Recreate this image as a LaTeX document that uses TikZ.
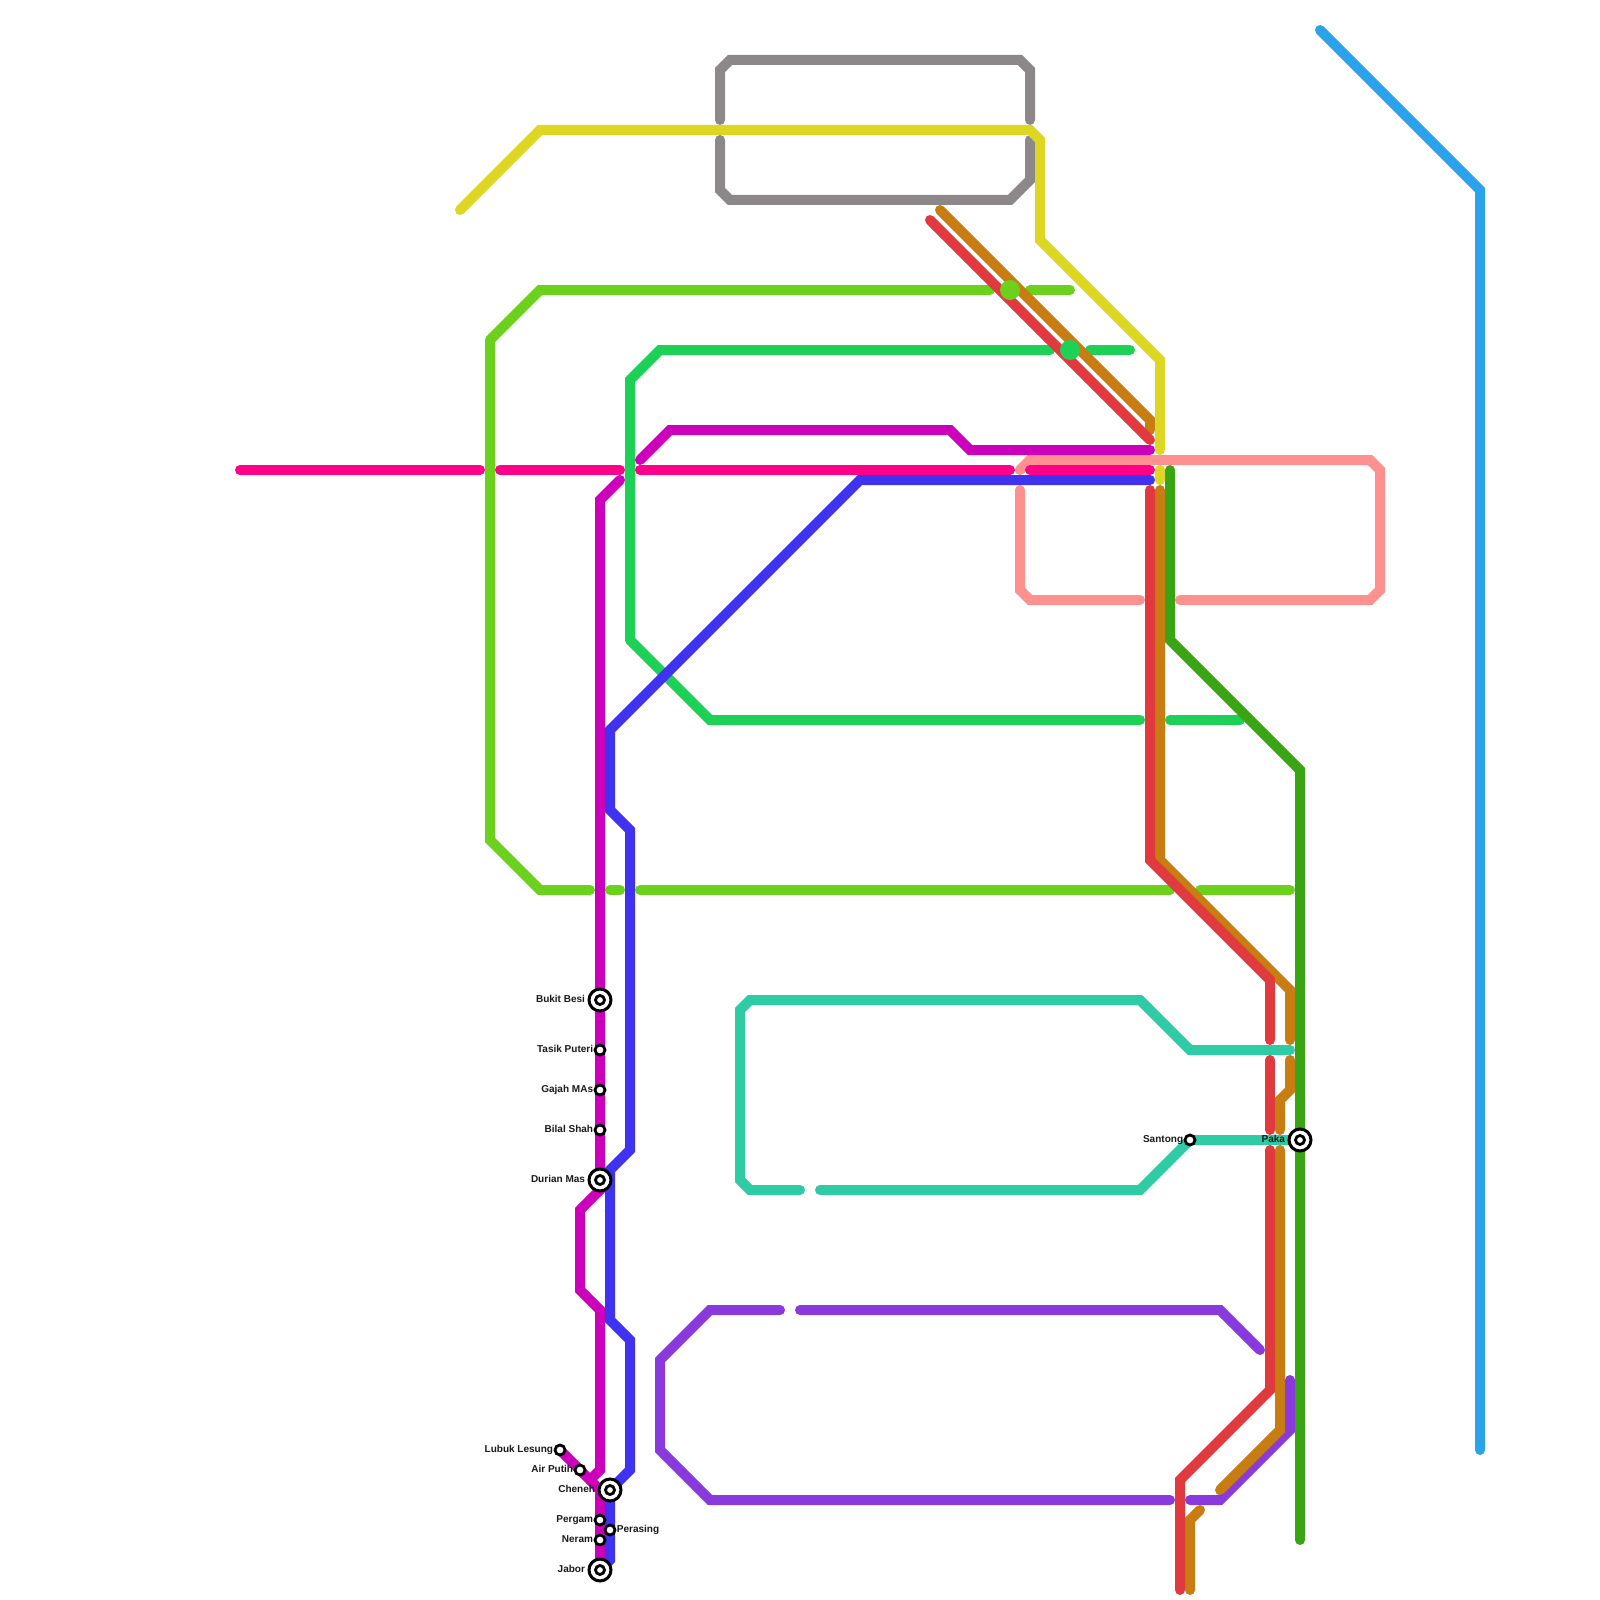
\documentclass[tikz,border=0pt]{standalone}
\usepackage{fontspec}
\setmainfont{Liberation Sans}
\usetikzlibrary{positioning,backgrounds}
\definecolor{Sky}{HTML}{2AA3EC}
\definecolor{Slate}{HTML}{8C888A}
\definecolor{Mustard}{HTML}{DDD622}
\definecolor{Lime}{HTML}{6BD11C}
\definecolor{Jade}{HTML}{1CD155}
\definecolor{Orchid}{HTML}{CC00BB}
\definecolor{Rose}{HTML}{FF0088}
\definecolor{Indigo}{HTML}{3F33F0}
\definecolor{Salmon}{HTML}{FF9090}
\definecolor{Brick}{HTML}{E03A3E}
\definecolor{Amber}{HTML}{C87D12}
\definecolor{Forest}{HTML}{39A515}
\definecolor{Teal}{HTML}{2FCBA5}
\definecolor{Violet}{HTML}{8A3ADC}
\begin{document}
\begin{tikzpicture}[
  x=1mm,y=-1mm,
  route/.style={line width=1mm,line cap=round,line join=miter},
  stopsmall/.style={circle,draw=black,fill=white,line width=.28mm,minimum size=1mm,inner sep=0pt},
  stopbig/.style={circle,draw=black,fill=white,line width=.3mm,minimum size=2.2mm,inner sep=0pt,
    path picture={\draw[black,line width=.28mm] (path picture bounding box.center) circle (.45mm);}},
  stopname/.style={inner sep=0pt,outer sep=0pt,text=black!90,text height=1.6pt,text depth=0pt,font=\fontsize{2.85}{3.4}\selectfont\bfseries},
  junction/.style={circle,inner sep=0pt,minimum size=2mm}
]
\useasboundingbox (0,0) rectangle (160,160);
% stations
\node[stopbig] (bukit) at (60,100) {};
\node[stopsmall] (tasik) at (60,105) {};
\node[stopsmall] (gajah) at (60,109) {};
\node[stopsmall] (bilal) at (60,113) {};
\node[stopbig] (durian) at (60,118) {};
\node[stopsmall] (lubuk) at (56,145) {};
\node[stopsmall] (airputih) at (58,147) {};
\node[stopbig] (cheneh) at (61,149) {};
\node[stopsmall] (pergam) at (60,152) {};
\node[stopsmall] (perasing) at (61,153) {};
\node[stopsmall] (neram) at (60,154) {};
\node[stopbig] (jabor) at (60,157) {};
\node[stopsmall] (santong) at (119,114) {};
\node[stopbig] (paka) at (130,114) {};
% station names
\node[stopname,left=.25mm of bukit] (bukitname) {Bukit Besi};
\node[stopname,left=.05mm of tasik] (tasikname) {Tasik Puteri};
\node[stopname,left=.05mm of gajah] (gajahname) {Gajah MAs};
\node[stopname,left=.05mm of bilal] (bilalname) {Bilal Shah};
\node[stopname,left=.25mm of durian] (durianname) {Durian Mas};
\node[stopname,left=.05mm of lubuk] (lubukname) {Lubuk Lesung};
\node[stopname,left=.05mm of airputih] (airputihname) {Air Putih};
\node[stopname,left=.25mm of cheneh] (chenehname) {Cheneh};
\node[stopname,left=.05mm of pergam] (pergamname) {Pergam};
\node[stopname,right=.05mm of perasing] (perasingname) {Perasing};
\node[stopname,left=.05mm of neram] (neramname) {Neram};
\node[stopname,left=.25mm of jabor] (jaborname) {Jabor};
\node[stopname,left=.05mm of santong] (santongname) {Santong};
\node[stopname,left=.25mm of paka] (pakaname) {Paka};
\begin{scope}[on background layer]
% routes, bottom layer first
\draw[route,Sky] (132,3) -- (148,19) -- (148,145);
\draw[route,Slate] (72,12) -- (72,7) -- (73,6) -- (102,6) -- (103,7) -- (103,12);
\draw[route,Slate] (72,14) -- (72,19) -- (73,20) -- (101,20) -- (103,18) -- (103,14);
\draw[route,Salmon] (102,47) -- (103,46) -- (137,46) -- (138,47) -- (138,59) -- (137,60) -- (118,60);
\draw[route,Salmon] (102,49) -- (102,59) -- (103,60) -- (114,60);
\draw[route,Lime] (49,34) -- (54,29) -- (99,29);
\draw[route,Lime] (103,29) -- (107,29);
\draw[route,Lime] (49,34) -- (49,84) -- (54,89) -- (59,89);
\draw[route,Lime] (61,89) -- (62,89);
\draw[route,Lime] (64,89) -- (117,89);
\draw[route,Lime] (120,89) -- (129,89);
\draw[route,Jade] (63,64) -- (63,38) -- (66,35) -- (105,35);
\draw[route,Jade] (109,35) -- (113,35);
\draw[route,Jade] (63,64) -- (71,72) -- (114,72);
\draw[route,Jade] (117,72) -- (124,72);
\draw[route,Teal] (129,105) -- (119,105) -- (114,100) -- (75,100) -- (74,101) -- (74,118) -- (75,119) -- (80,119);
\draw[route,Teal] (82,119) -- (114,119) -- (santong.center) -- (paka.center);
\draw[route,Violet] (78,131) -- (71,131) -- (66,136) -- (66,145) -- (71,150) -- (117,150);
\draw[route,Violet] (80,131) -- (122,131) -- (126,135);
\draw[route,Violet] (119,150) -- (122,150) -- (129,143) -- (129,138);
\draw[route,Forest] (117,47) -- (117,64) -- (130,77) -- (paka.center) -- (130,154);
\draw[route,Amber] (94,21) -- (115,42) -- (115,43);
\draw[route,Amber] (116,49) -- (116,86) -- (129,99) -- (129,104);
\draw[route,Amber] (129,106) -- (129,109) -- (128,110) -- (128,113);
\draw[route,Amber] (128,115) -- (128,143) -- (122,149);
\draw[route,Amber] (120,151) -- (119,152) -- (119,159);
\draw[route,Brick] (93,22) -- (115,44);
\draw[route,Brick] (115,49) -- (115,86) -- (127,98) -- (127,104);
\draw[route,Brick] (127,106) -- (127,113);
\draw[route,Brick] (127,115) -- (127,139) -- (118,148) -- (118,159);
\draw[route,Mustard] (46,21) -- (54,13) -- (103,13) -- (104,14) -- (104,24) -- (116,36) -- (116,45);
\draw[route,Mustard] (116,47) -- (116,48);
\draw[route,Rose] (24,47) -- (48,47);
\draw[route,Rose] (50,47) -- (62,47);
\draw[route,Rose] (64,47) -- (101,47);
\draw[route,Rose] (103,47) -- (115,47);
\draw[route,Indigo] (115,48) -- (86,48) -- (61,73) -- (61,81) -- (63,83) -- (63,115) -- (61,117) -- (61,132) -- (63,134) -- (63,147) -- (cheneh.center) -- (perasing.center) -- (61,156) -- (jabor.center);
\draw[route,Orchid] (64,46) -- (67,43) -- (95,43) -- (97,45) -- (115,45);
\draw[route,Orchid] (62,48) -- (60,50) -- (bukit.center) -- (tasik.center) -- (gajah.center) -- (bilal.center) -- (durian.center) -- (60,119) -- (58,121) -- (58,129) -- (60,131) -- (60,147) -- (59,148);
\draw[route,Orchid] (lubuk.center) -- (airputih.center) -- (60,149) -- (pergam.center) -- (neram.center) -- (jabor.center);
\end{scope}
% transfer dots
\node[junction,fill=Lime] (limedot) at (101,29) {};
\node[junction,fill=Jade] (jadedot) at (107,35) {};
\end{tikzpicture}
\end{document}
